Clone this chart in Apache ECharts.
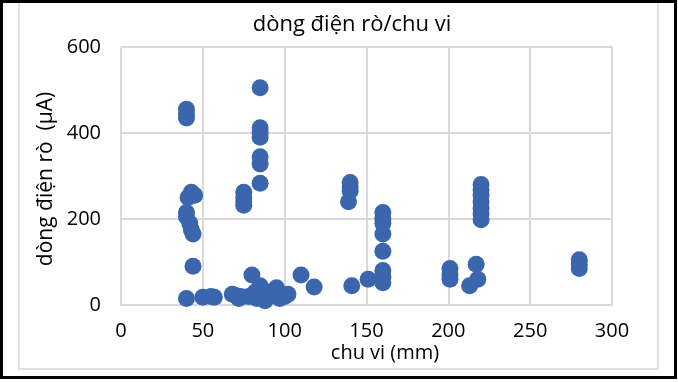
<!DOCTYPE html>
<html>
<head>
<meta charset="utf-8">
<script src="https://cdn.jsdelivr.net/npm/echarts@6/dist/echarts.min.js"></script>
<style>html,body{margin:0;padding:0;background:#fff}#c{width:678px;height:382px}</style>
</head>
<body>
<div id="c"></div>
<script>
const titleText = 'dòng điện rò/chu vi';
const xName = 'chu vi (mm)';
const yName = 'dòng điện rò  (µA)';
const xTicks = [0, 50, 100, 150, 200, 250, 300];
const yTicks = [0, 200, 400, 600];
// perimeter (mm)
const perimeter = [
  40, 40, 40, 41, 43, 45, 40, 40, 42, 43, 44, 44, 40,
  50, 55, 57, 68, 70, 72, 73, 78, 80, 82, 83, 85, 86, 88, 90, 92, 95, 97, 100, 102, 110, 118,
  75, 75, 75, 75,
  85, 85, 85, 85, 85, 85, 85,
  140, 140, 140, 139, 141, 151,
  160, 160, 160, 160, 160, 160, 160, 160,
  201, 201, 201, 213, 217, 218,
  220, 220, 220, 220, 220, 220, 220,
  280, 280, 280
];
// leakage current (µA)
const current = [
  455, 445, 435, 250, 262, 255, 215, 205, 190, 175, 165, 90, 15,
  18, 20, 18, 25, 22, 15, 20, 20, 70, 30, 15, 45, 20, 10, 30, 25, 40, 15, 20, 25, 70, 42,
  262, 250, 240, 232,
  505, 412, 400, 390, 345, 328, 283,
  285, 275, 265, 240, 45, 60,
  215, 200, 190, 165, 125, 80, 65, 52,
  85, 70, 60, 45, 95, 60,
  280, 268, 255, 240, 225, 212, 198,
  105, 95, 85
];

const pts = perimeter.map((x, i) => [x, current[i]]);
const chart = echarts.init(document.getElementById('c'), null, {renderer: 'canvas'});
const font = '"Open Sans", "DejaVu Sans", sans-serif';
const gridColor = '#d9d9d9';
chart.setOption({
  animation: false,
  backgroundColor: '#ffffff',
  grid: {left: 121, right: 66, top: 47, bottom: 77, containLabel: false},
  xAxis: {
    type: 'value', min: xTicks[0], max: xTicks[xTicks.length - 1], interval: 50,
    axisLine: {show: true, lineStyle: {color: gridColor, width: 2}},
    axisTick: {show: false},
    axisLabel: {color: '#000', fontFamily: font, fontSize: 20, margin: 16},
    splitLine: {show: true, lineStyle: {color: gridColor, width: 2}}
  },
  yAxis: {
    type: 'value', min: yTicks[0], max: yTicks[yTicks.length - 1], interval: 200,
    axisLine: {show: false},
    axisTick: {show: false},
    axisLabel: {color: '#000', fontFamily: font, fontSize: 20, margin: 20},
    splitLine: {show: true, lineStyle: {color: gridColor, width: 2}}
  },
  series: [{
    type: 'scatter',
    data: pts,
    symbol: 'circle',
    symbolSize: 17,
    itemStyle: {color: '#3b66ad', opacity: 1}
  }],
  graphic: [
    {type: 'rect', shape: {x: 19, y: 2, width: 639, height: 367}, style: {fill: 'none', stroke: '#e0e0e0', lineWidth: 2}, z: -1},
    {type: 'rect', shape: {x: 1.5, y: 1.5, width: 674, height: 376}, style: {fill: 'none', stroke: '#000', lineWidth: 3}, z: 100},
    {type: 'text', x: 352, y: 25, style: {text: titleText, fill: '#000', font: '22px "Open Sans", sans-serif', align: 'center', verticalAlign: 'middle'}},
    {type: 'text', x: 385, y: 353, style: {text: xName, fill: '#000', font: '20px ' + font, align: 'center', verticalAlign: 'middle'}},
    {type: 'text', x: 46, y: 179, rotation: Math.PI / 2, style: {text: yName, fill: '#000', font: '21px ' + font, align: 'center', verticalAlign: 'middle'}}
  ]
});
</script>
</body>
</html>
